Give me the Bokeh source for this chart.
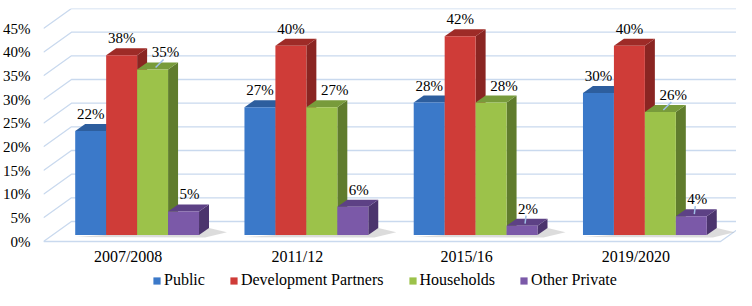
import numpy as np
from bokeh.plotting import figure
from bokeh.layouts import column
from bokeh.models import Range1d, FixedTicker, Legend, LegendItem
from bokeh.core.properties import value
from bokeh.embed import file_html
from bokeh.resources import INLINE

# ---------------- data ----------------
categories = ["2007/2008", "2011/12", "2015/16", "2019/2020"]
series_names = ["Public", "Development Partners", "Households", "Other Private"]
public = [22, 27, 28, 30]
dev_partners = [38, 40, 42, 40]
households = [35, 27, 28, 26]
other_private = [5, 6, 2, 4]
y_ticks = [0, 5, 10, 15, 20, 25, 30, 35, 40, 45]

# ---------------- styles ----------------
front_colors = ["#3b79c9", "#cf3c38", "#9cc24a", "#7b59a8"]
top_colors = ["#2d5e9e", "#9e2b27", "#789b3b", "#5d4185"]
side_colors = ["#25508a", "#8a2522", "#607c2d", "#4b346d"]
grid_color = "#c9d9ee"
leader_color = "#9fbfe6"
FONT = "'Liberation Serif'"

W, H, LEG_H = 736, 268, 22
BORDER_L, BORDER_T, BORDER_B = 42, 8, 25
FRAME_W = W - BORDER_L
FRAME_H = H - BORDER_T - BORDER_B
PX_X = 169.5   # pixels per category unit
PX_Y = 4.733   # pixels per percentage point


def ux(px):
    return px / PX_X


def uy(px):
    return px / PX_Y


wall_dx, wall_dy = ux(28), uy(20)      # depth of the chart box
bar_w = ux(31)
bar_dx, bar_dy = ux(10), uy(7)         # depth of a bar
front_dx, front_dy = ux(9), uy(6.4)    # bars sit inside the box
lab_nudge = [0, 0, 13, 6]              # label x nudge per series (px)
lab_rise = 17                          # label centre above bar top (px)
leaders = [(2, 0), (2, 3), (3, 2), (3, 3)]

y_top = uy(233)
p = figure(width=W, height=H,
           x_range=Range1d(0, FRAME_W / PX_X),
           y_range=Range1d(y_top - FRAME_H / PX_Y, y_top),
           output_backend="svg", toolbar_location=None,
           min_border_left=BORDER_L, min_border_right=0, min_border_top=BORDER_T,
           min_border_bottom=BORDER_B, background_fill_color="white",
           border_fill_color="white", outline_line_color=None)
p.xgrid.visible = False
p.ygrid.visible = False

# back wall grid + side wall diagonals
for t in y_ticks:
    p.line([0, wall_dx, FRAME_W / PX_X + 1], [t, t + wall_dy, t + wall_dy],
           line_color=grid_color, line_width=1.3)
n = len(categories)
# floor front edge and right edge
p.line([0, n, n + wall_dx], [0, 0, wall_dy], line_color=grid_color, line_width=1.3)

values = np.array([public, dev_partners, households, other_private], dtype=float)
ns = len(series_names)
g = np.arange(n) + 0.5

# soft floor shadows under each group
base = front_dy
for i in range(n):
    L = g[i] + front_dx - ns / 2 * bar_w
    R = g[i] + front_dx + ns / 2 * bar_w
    p.patch([L, R + ux(6), R + bar_dx + ux(18), R + bar_dx],
            [base - uy(2), base - uy(2.5), base + bar_dy * 0.4, base + bar_dy],
            fill_color="#9a9a9a", fill_alpha=0.35, line_color=None)

for j in range(ns):
    xc = g + front_dx + (j - (ns - 1) / 2) * bar_w
    L = xc - bar_w / 2
    R = xc + bar_w / 2
    top = base + values[j]
    side_xs = [[R[i], R[i] + bar_dx, R[i] + bar_dx, R[i]] for i in range(n)]
    side_ys = [[base, base + bar_dy, top[i] + bar_dy, top[i]] for i in range(n)]
    top_xs = [[L[i], R[i], R[i] + bar_dx, L[i] + bar_dx] for i in range(n)]
    top_ys = [[top[i], top[i], top[i] + bar_dy, top[i] + bar_dy] for i in range(n)]
    p.patches(side_xs, side_ys, fill_color=side_colors[j], line_color=None)
    p.patches(top_xs, top_ys, fill_color=top_colors[j], line_color=None)
    p.quad(left=L, right=R, bottom=base, top=top,
           fill_color=front_colors[j], line_color=None)

# data labels
for j in range(ns):
    xc = g + front_dx + (j - (ns - 1) / 2) * bar_w
    top = base + values[j]
    lx = xc + ux(lab_nudge[j])
    ly = top + uy(lab_rise)
    p.text(x=lx, y=ly, text=[f"{int(v)}%" for v in values[j]],
           text_font=value(FONT), text_font_size="15px", text_color="#000000",
           text_align="center", text_baseline="middle")
    for (sj, gi) in leaders:
        if sj == j:
            p.line([xc[gi] + ux(3), lx[gi] - ux(2)],
                   [top[gi] + uy(2), ly[gi] - uy(7)],
                   line_color=leader_color, line_width=1.5)

# axes
p.yaxis.ticker = FixedTicker(ticks=y_ticks)
p.yaxis.major_label_overrides = {t: f"{t}%" for t in y_ticks}
p.xaxis.ticker = FixedTicker(ticks=list(g))
p.xaxis.major_label_overrides = {float(x): c for x, c in zip(g, categories)}
for ax in (p.xaxis, p.yaxis):
    ax.axis_line_color = None
    ax.major_tick_line_color = None
    ax.minor_tick_line_color = None
    ax.major_tick_out = 0
    ax.major_tick_in = 0
    ax.axis_label_standoff = 0
    ax.major_label_text_font = FONT
    ax.major_label_text_color = "#000000"
p.yaxis.major_label_text_font_size = "15px"
p.xaxis.major_label_text_font_size = "16px"
p.yaxis.major_label_standoff = 13
p.xaxis.major_label_standoff = 4

# legend in its own strip below the chart
pl = figure(width=W, height=LEG_H, x_range=Range1d(0, 1), y_range=Range1d(0, 1),
            output_backend="svg", toolbar_location=None,
            min_border_left=0, min_border_right=0, min_border_top=0, min_border_bottom=0,
            outline_line_color=None, background_fill_color="white",
            border_fill_color="white")
pl.axis.visible = False
pl.xgrid.visible = False
pl.ygrid.visible = False
# key swatches: off-range placeholders, only their legend glyphs are seen
leg_renderers = [pl.quad(left=[-3], right=[-2], bottom=[-3], top=[-2],
                         fill_color=c, line_color=None) for c in front_colors]
legend = Legend(items=[LegendItem(label=s, renderers=[r])
                       for s, r in zip(series_names, leg_renderers)],
                orientation="horizontal", location=(109, 1),
                border_line_color=None, background_fill_alpha=0,
                label_text_font=FONT, label_text_font_size="16px",
                label_text_color="#000000",
                glyph_width=9, glyph_height=9, label_standoff=3,
                spacing=24, padding=2, margin=0, label_height=17)
pl.add_layout(legend, "center")

layout = column(p, pl, spacing=0)
open("out.html", "w").write(file_html(layout, INLINE))
